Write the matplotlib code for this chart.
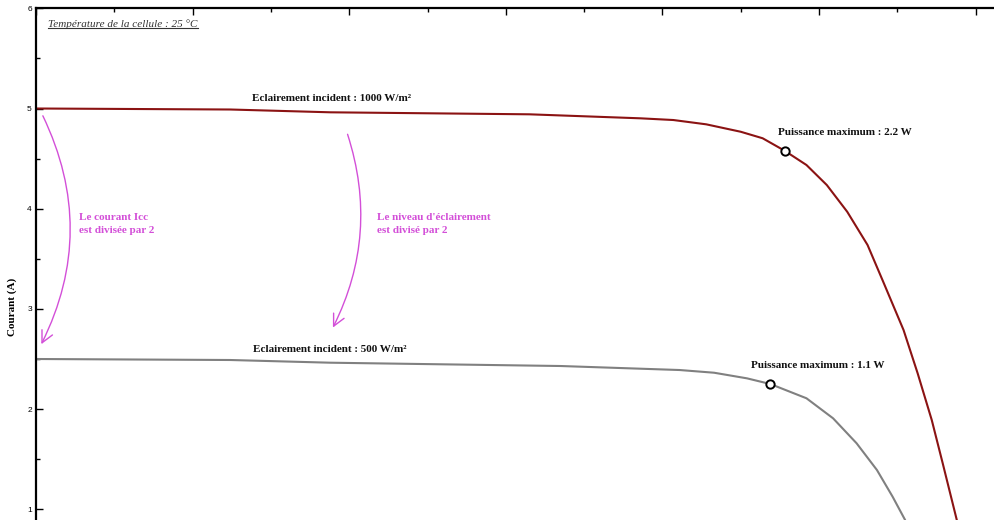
import matplotlib
matplotlib.use("Agg")
import matplotlib.pyplot as plt
from matplotlib.patches import FancyArrowPatch
from matplotlib.lines import Line2D
from matplotlib.ticker import MultipleLocator

# Courbe I(V) a 1000 W/m2 (tension en V, courant en A)
v_1000 = [0.0, 0.124, 0.188, 0.315, 0.386, 0.407, 0.428, 0.450, 0.464,
          0.478, 0.492, 0.505, 0.518, 0.531, 0.541, 0.554, 0.563, 0.572,
          0.579, 0.588, 0.592]
i_1000 = [5.000, 4.990, 4.962, 4.942, 4.902, 4.885, 4.842, 4.768, 4.703,
          4.579, 4.436, 4.236, 3.970, 3.638, 3.271, 2.789, 2.357, 1.891,
          1.459, 0.893, 0.500]

# Courbe I(V) a 500 W/m2
v_500 = [0.0, 0.124, 0.188, 0.335, 0.411, 0.433, 0.454, 0.469, 0.492,
         0.509, 0.524, 0.537, 0.547, 0.555, 0.559]
i_500 = [2.500, 2.490, 2.463, 2.430, 2.390, 2.363, 2.307, 2.250, 2.108,
         1.908, 1.659, 1.392, 1.126, 0.893, 0.550]

# Points de puissance maximum
mpp_v = [0.478, 0.469]
mpp_i = [4.579, 2.250]
mpp_labels = ["Puissance maximum : 2.2 W", "Puissance maximum : 1.1 W"]

SERIF = ["Liberation Serif", "DejaVu Serif"]
MAGENTA = "#d34fd8"

fig = plt.figure(figsize=(9.94, 5.2), dpi=100)
fig.patch.set_facecolor("white")

# Axes plus grand que la figure : le bas et la droite sont rognes comme l'original.
ax = fig.add_axes([36 / 994, 1 - 609.5 / 520, 0.65 * 1566 / 994, 601.2 / 520])
ax.set_xlim(0, 0.65)
ax.set_ylim(0, 6)

ax.plot(v_1000, i_1000, color="#8b1313", lw=1.5, solid_joinstyle="round")
ax.plot(v_500, i_500, color="#808080", lw=1.5, solid_joinstyle="round")
ax.plot(mpp_v, mpp_i, "o", ms=6, mfc="white", mec="black", mew=1.4, zorder=5)

offsets = [(-5, 13), (-14, 13)]
for v, i, txt, off in zip(mpp_v, mpp_i, mpp_labels, offsets):
    ax.annotate(txt, (v, i), xytext=off, textcoords="offset points",
                ha="left", va="center", fontsize=8, fontweight="bold",
                family=SERIF, color="#111111")

ax.text(0.1378, 5.102, "Eclairement incident : 1000 W/m²", ha="left",
        va="center", fontsize=8, fontweight="bold", family=SERIF,
        color="#111111")
ax.text(0.1385, 2.592, "Eclairement incident : 500 W/m²", ha="left",
        va="center", fontsize=8, fontweight="bold", family=SERIF,
        color="#111111")

ax.text(0.0274, 3.847, "Le courant Icc\nest divisée par 2", ha="left",
        va="center", fontsize=8, fontweight="bold", family=SERIF,
        color=MAGENTA, linespacing=1.5)
ax.text(0.2176, 3.847, "Le niveau d'éclairement\nest divisé par 2", ha="left",
        va="center", fontsize=8, fontweight="bold", family=SERIF,
        color=MAGENTA, linespacing=1.5)

# Fleches courbes magenta
for start, end, rad in [((0.0036, 4.952), (0.0026, 2.623), -0.25),
                        ((0.1984, 4.769), (0.1888, 2.789), -0.21)]:
    arr = FancyArrowPatch(start, end, connectionstyle=f"arc3,rad={rad}",
                          arrowstyle="->,head_length=0.7,head_width=0.35",
                          mutation_scale=12, color=MAGENTA, lw=1.0)
    ax.add_patch(arr)

temp = ax.text(0.0078, 5.843, "Température de la cellule : 25 °C", ha="left",
               va="center", fontsize=8, fontstyle="italic", family=SERIF,
               color="#333333")

# Axes : ticks vers l'interieur, graduations en haut sans etiquettes
ax.spines["right"].set_visible(False)
ax.spines["bottom"].set_visible(False)
ax.spines["left"].set_linewidth(1.6)
ax.spines["top"].set_linewidth(1.6)
ax.xaxis.tick_top()
ax.xaxis.set_major_locator(MultipleLocator(0.1))
ax.xaxis.set_minor_locator(MultipleLocator(0.05))
ax.tick_params(axis="x", which="major", direction="in", length=5, width=1,
               labeltop=False)
ax.tick_params(axis="x", which="minor", direction="in", length=3, width=1)
ax.set_yticks([1, 2, 3, 4, 5, 6])
ax.yaxis.set_minor_locator(MultipleLocator(0.5))
ax.tick_params(axis="y", which="major", direction="in", length=5, width=1,
               labelsize=6, pad=3)
ax.tick_params(axis="y", which="minor", direction="in", length=3, width=1)
for lab in ax.get_yticklabels():
    lab.set_family("Liberation Sans")

ax.set_ylabel("Courant (A)", fontsize=8, fontweight="bold", family=SERIF)
ax.yaxis.set_label_coords(-0.0187, 0.5037)

# Soulignement du texte de temperature
fig.canvas.draw()
bb = temp.get_window_extent().transformed(fig.transFigure.inverted())
fig.add_artist(Line2D([bb.x0, bb.x1], [bb.y0 + 0.002, bb.y0 + 0.002],
                      transform=fig.transFigure, color="#333333", lw=0.8))

fig.savefig("out.png", dpi=100, facecolor="white")
